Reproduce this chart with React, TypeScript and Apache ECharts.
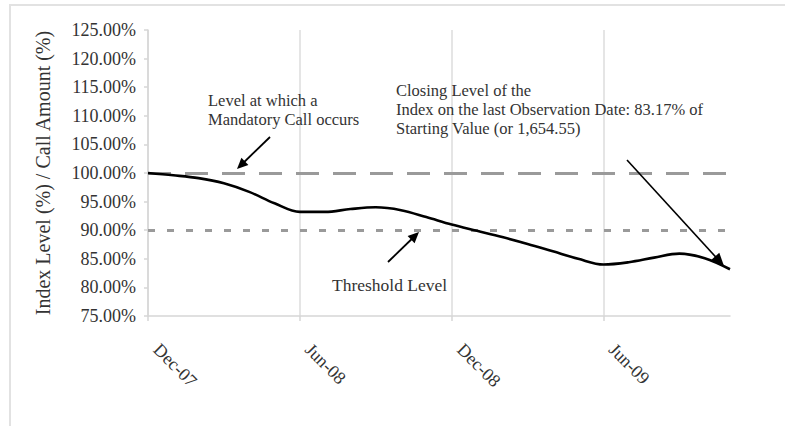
import React, { useEffect, useRef } from 'react';
import * as echarts from 'echarts';

const months = [
  'Dec-07', 'Jan-08', 'Feb-08', 'Mar-08', 'Apr-08', 'May-08', 'Jun-08', 'Jul-08',
  'Aug-08', 'Sep-08', 'Oct-08', 'Nov-08', 'Dec-08', 'Jan-09', 'Feb-09', 'Mar-09',
  'Apr-09', 'May-09', 'Jun-09', 'Jul-09', 'Aug-09', 'Sep-09', 'Oct-09', 'Nov-09',
];
const indexLevel = [
  100.0, 99.6, 99.1, 98.2, 96.7, 94.7, 93.2, 93.2,
  93.7, 94.0, 93.5, 92.3, 91.0, 89.9, 88.8, 87.6,
  86.3, 85.0, 84.0, 84.4, 85.2, 85.9, 85.1, 83.17,
];
const mandatoryCallLevel = 100;
const thresholdLevel = 90;
const yMin = 75;
const yMax = 125;
const yStep = 5;
const labelEvery = 6;

const callText = ['Level at which a', 'Mandatory Call occurs'];
const closingText = [
  'Closing Level of the',
  'Index on the last Observation Date: 83.17% of',
  'Starting Value (or 1,654.55)',
];
const thresholdText = 'Threshold Level';

const FONT = '"Liberation Serif", "Times New Roman", serif';
const TEXT_COLOR = '#333';

function arrow(tail: number[], tip: number[], headLen: number, halfW: number, lw: number) {
  const dx = tip[0] - tail[0];
  const dy = tip[1] - tail[1];
  const len = Math.sqrt(dx * dx + dy * dy);
  const ux = dx / len;
  const uy = dy / len;
  const bx = tip[0] - ux * headLen;
  const by = tip[1] - uy * headLen;
  const px = -uy;
  const py = ux;
  return [
    {
      type: 'line',
      shape: { x1: tail[0], y1: tail[1], x2: bx + ux * 2, y2: by + uy * 2 },
      style: { stroke: '#000', lineWidth: lw },
      z: 10,
    },
    {
      type: 'polygon',
      shape: {
        points: [
          [tip[0], tip[1]],
          [bx + px * halfW, by + py * halfW],
          [bx - px * halfW, by - py * halfW],
        ],
      },
      style: { fill: '#000' },
      z: 10,
    },
  ];
}

export default function App() {
  const ref = useRef<HTMLDivElement>(null);

  useEffect(() => {
    if (!ref.current) return;
    const chart = echarts.init(ref.current, null, { renderer: 'svg' });

    const option = {
      animation: false,
      backgroundColor: '#fff',
      grid: { left: 148, right: 55, top: 30, bottom: 110, containLabel: false },
      xAxis: {
        type: 'category',
        data: months,
        boundaryGap: false,
        axisLine: { show: true, lineStyle: { color: '#d6d6d6', width: 1.5 } },
        axisTick: {
          show: true,
          interval: labelEvery - 1,
          length: 5,
          lineStyle: { color: '#d6d6d6', width: 1.5 },
        },
        splitLine: {
          show: true,
          interval: labelEvery - 1,
          lineStyle: { color: '#dcdcdc', width: 1.5 },
        },
        axisLabel: {
          interval: labelEvery - 1,
          rotate: -45,
          margin: 22,
          padding: [0, 0, 0, 12],
          fontFamily: FONT,
          fontSize: 18,
          color: TEXT_COLOR,
        },
      },
      yAxis: {
        type: 'value',
        min: yMin,
        max: yMax,
        interval: yStep,
        name: 'Index Level (%) / Call Amount (%)',
        nameLocation: 'middle',
        nameGap: 95,
        nameTextStyle: { fontFamily: FONT, fontSize: 20, color: TEXT_COLOR },
        axisLine: { show: true, lineStyle: { color: '#d6d6d6', width: 1.5 } },
        axisTick: { show: true, length: 4, lineStyle: { color: '#d6d6d6', width: 1.5 } },
        splitLine: { show: false },
        axisLabel: {
          margin: 12,
          fontFamily: FONT,
          fontSize: 18,
          color: TEXT_COLOR,
          formatter: (v: number) => v.toFixed(2) + '%',
        },
      },
      series: [
        {
          type: 'line',
          data: indexLevel,
          smooth: 0.35,
          symbol: 'none',
          lineStyle: { color: '#000', width: 2.6 },
          z: 5,
          markLine: {
            silent: true,
            symbol: 'none',
            label: { show: false },
            z: 3,
            data: [
              {
                yAxis: mandatoryCallLevel,
                lineStyle: { color: '#9a9a9a', width: 3, type: [23, 14] },
              },
              {
                yAxis: thresholdLevel,
                lineStyle: { color: '#9a9a9a', width: 3, type: [7, 12] },
              },
            ],
          },
        },
      ],
      graphic: [
        {
          type: 'rect',
          shape: { x: 10, y: 5, width: 800, height: 440 },
          style: { fill: 'none', stroke: '#e2e2e2', lineWidth: 2 },
          z: -1,
          silent: true,
        },
        {
          type: 'text',
          x: 208,
          y: 91,
          style: {
            text: callText.join('\n'),
            font: `16.5px ${FONT}`,
            fill: TEXT_COLOR,
            lineHeight: 19,
            textVerticalAlign: 'top',
          },
          z: 10,
        },
        {
          type: 'text',
          x: 396,
          y: 80.5,
          style: {
            text: closingText.join('\n'),
            font: `16.5px ${FONT}`,
            fill: TEXT_COLOR,
            lineHeight: 19,
            textVerticalAlign: 'top',
          },
          z: 10,
        },
        {
          type: 'text',
          x: 332,
          y: 275,
          style: {
            text: thresholdText,
            font: `17.5px ${FONT}`,
            fill: TEXT_COLOR,
            lineHeight: 19,
            textVerticalAlign: 'top',
          },
          z: 10,
        },
        ...arrow([270, 137], [237, 169], 11, 5, 1.8),
        ...arrow([388, 262], [419, 232], 11, 5, 1.8),
        ...arrow([627, 160], [724, 266], 13, 5.5, 1.6),
      ],
    };

    chart.setOption(option as any);
    return () => chart.dispose();
  }, []);

  return (
    <div
      ref={ref}
      style={{ position: 'fixed', left: 0, top: 0, width: 785, height: 426 }}
    />
  );
}
